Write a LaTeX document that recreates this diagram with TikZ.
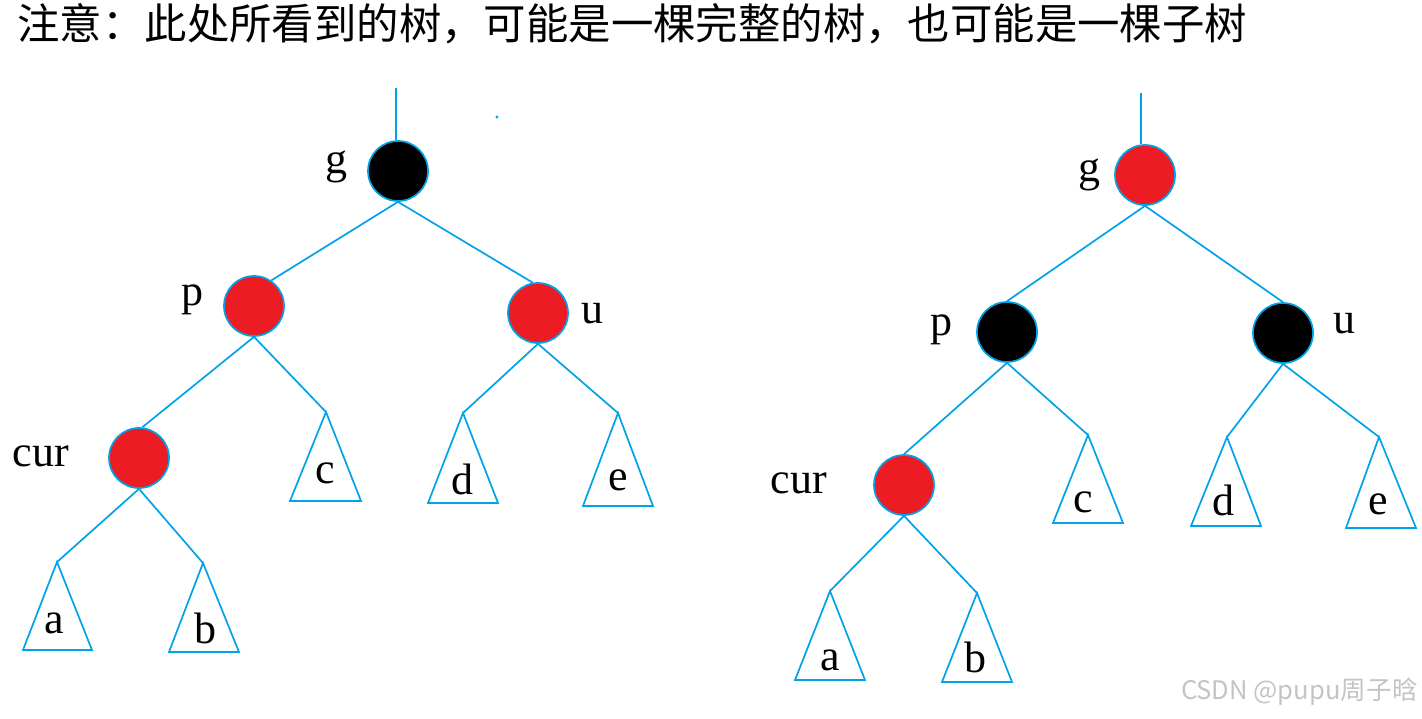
\documentclass[tikz,border=0pt]{standalone}
\usepackage{fontspec}
\setmainfont{Liberation Serif}
\newfontfamily\cjk{Noto Sans CJK SC}
\definecolor{lblue}{RGB}{0,162,232}
\definecolor{pred}{RGB}{237,28,36}
\definecolor{wm}{RGB}{196,196,196}
\begin{document}
\begin{tikzpicture}[x=0.5pt,y=-0.5pt,
  edge/.style={draw=lblue, line width=0.85pt},
  rb/.style={circle, draw=lblue, line width=0.85pt, minimum size=30pt, inner sep=0pt},
  rednode/.style={rb, fill=pred},
  blacknode/.style={rb, fill=black},
  lbl/.style={font=\fontsize{22}{22}\selectfont, inner sep=0pt}]
\useasboundingbox[fill=white] (0,0) rectangle (1422,718);

% title
\node[anchor=west, inner sep=0pt, font=\cjk\fontsize{21.2}{22}\selectfont] (title) at (17,24)
  {注意：此处所看到的树，可能是一棵完整的树，也可能是一棵子树};

% ===== left tree =====
\node[blacknode] (gL) at (398,171) {};
\node[rednode] (pL) at (254,306) {};
\node[rednode] (uL) at (538,313) {};
\node[rednode] (curL) at (139,458) {};
\coordinate (topL) at (396,88);
\coordinate (aL) at (57,562);
\coordinate (bL) at (203,563);
\coordinate (cL) at (326,412);
\coordinate (dL) at (463,413);
\coordinate (eL) at (618,413);

\draw[edge] (topL) -- (topL |- gL.north);
\draw[edge] (gL.south) -- (pL.56);
\draw[edge] (gL.south) -- (uL.100);
\draw[edge] (pL.south) -- (curL.84);
\draw[edge] (pL.south) -- (cL);
\draw[edge] (uL.south) -- (dL);
\draw[edge] (uL.south) -- (eL);
\draw[edge] (curL.south) -- (aL);
\draw[edge] (curL.south) -- (bL);

\draw[edge] (aL) -- (23,650) -- (92,650) -- cycle;
\draw[edge] (bL) -- (169,652) -- (239,652) -- cycle;
\draw[edge] (cL) -- (290,501) -- (361,501) -- cycle;
\draw[edge] (dL) -- (428,503) -- (498,503) -- cycle;
\draw[edge] (eL) -- (583,506) -- (653,506) -- cycle;

\fill[lblue] (497,117) circle (0.8pt);

\node[lbl] (lgL) at (336,167) {g};
\node[lbl] (lpL) at (192,300) {p};
\node[lbl] (luL) at (592,314) {u};
\node[lbl] (lcurL) at (41,456) {cur};
\node[lbl] (laL) at (54,623) {a};
\node[lbl] (lbL) at (205,628) {b};
\node[lbl] (lcL) at (325,473) {c};
\node[lbl] (ldL) at (462,479) {d};
\node[lbl] (leL) at (618,480) {e};

% ===== right tree =====
\node[rednode] (gR) at (1145,175) {};
\node[blacknode] (pR) at (1007,332) {};
\node[blacknode] (uR) at (1283,333) {};
\node[rednode] (curR) at (904,485) {};
\coordinate (topR) at (1141,93);
\coordinate (aR) at (830,591);
\coordinate (bR) at (977,593);
\coordinate (cR) at (1088,435);
\coordinate (dR) at (1227,437);
\coordinate (eR) at (1379,437);

\draw[edge] (topR) -- (topR |- gR.north);
\draw[edge] (gR.south) -- (pR.north);
\draw[edge] (gR.south) -- (uR.north);
\draw[edge] (pR.south) -- (curR.north);
\draw[edge] (pR.south) -- (cR);
\draw[edge] (uR.south) -- (dR);
\draw[edge] (uR.south) -- (eR);
\draw[edge] (curR.south) -- (aR);
\draw[edge] (curR.south) -- (bR);

\draw[edge] (aR) -- (795,680) -- (865,680) -- cycle;
\draw[edge] (bR) -- (942,682) -- (1012,682) -- cycle;
\draw[edge] (cR) -- (1053,523) -- (1123,523) -- cycle;
\draw[edge] (dR) -- (1191,526) -- (1261,526) -- cycle;
\draw[edge] (eR) -- (1346,528) -- (1416,528) -- cycle;

\node[lbl] (lgR) at (1089,175) {g};
\node[lbl] (lpR) at (941,330) {p};
\node[lbl] (luR) at (1344,324) {u};
\node[lbl] (lcurR) at (799,483) {cur};
\node[lbl] (laR) at (830,660) {a};
\node[lbl] (lbR) at (975,657) {b};
\node[lbl] (lcR) at (1083,502) {c};
\node[lbl] (ldR) at (1223,500) {d};
\node[lbl] (leR) at (1378,504) {e};

% watermark
\node[anchor=east, inner sep=0pt, text=wm, font=\cjk\fontsize{12.8}{13}\selectfont] (wmark) at (1418,692) {CSDN @pupu周子晗};
\end{tikzpicture}
\end{document}
